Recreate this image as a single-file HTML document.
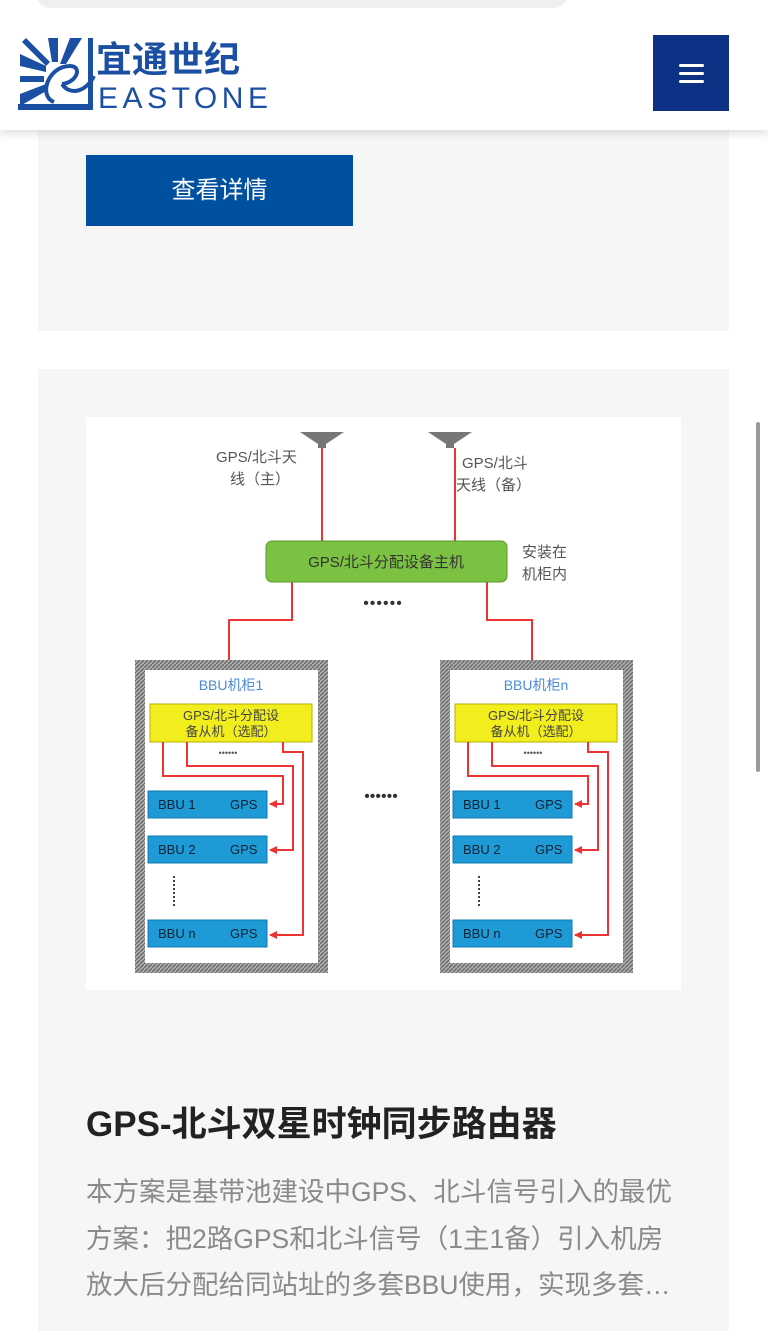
<!DOCTYPE html>
<html><head><meta charset="utf-8"><style>
*{margin:0;padding:0;box-sizing:border-box}
body{width:768px;height:1331px;overflow:hidden;background:#fff;font-family:"Liberation Sans","Noto Sans CJK SC",sans-serif;position:relative}
.card{position:absolute;left:38px;width:691px;background:#f6f6f6}
.hdr{position:absolute;left:0;top:0;width:768px;height:130px;background:#fff;box-shadow:0 4px 8px rgba(0,0,0,.12)}
.pill{position:absolute;left:36px;top:-20px;width:532px;height:28px;border-radius:14px;background:#eeeff1}
.btn{position:absolute;left:86px;top:155px;width:267px;height:71px;background:#0050a0;color:#fff;font-size:24px;text-align:center;line-height:71px}
.menu{position:absolute;left:653px;top:35px;width:76px;height:76px;background:#0d3285}
.menu i{position:absolute;left:26px;width:25px;height:3px;background:#fff;border-radius:2px}
.title{position:absolute;left:86px;top:1096px;font-size:35px;color:#222;font-weight:bold;white-space:nowrap}
.desc{position:absolute;left:86px;top:1169px;width:660px;font-size:26.5px;line-height:46.5px;color:#8a8a8a;white-space:nowrap}
</style></head><body>
<div class="card" style="top:0;height:331px"></div>
<div class="btn">查看详情</div>
<div class="hdr"><div class="pill"></div>
<svg style="position:absolute;left:18px;top:36px" width="252" height="76">
<g fill="#1a4fa3"><polygon points="2,18 28,30 28,36 2,30"/><polygon points="8,2 32,26 28,30 4,6"/><polygon points="30,2 40,2 40,26 34,26"/><polygon points="52,2 64,2 48,28 42,28"/><rect x="2" y="40" width="24" height="6"/><polygon points="2,58 28,48 30,54 2,70"/><rect x="0" y="68" width="74" height="6"/><path d="M36,66 C20,60 30,30 52,30 C64,30 60,46 44,48 M44,48 C52,60 68,56 76,40" stroke="#1a4fa3" stroke-width="4" fill="none"/><rect x="70" y="2" width="5" height="72"/></g>
<text x="78" y="36" font-size="36" font-weight="bold" fill="#1a4fa3" font-family="Noto Sans CJK SC,sans-serif">宜通世纪</text>
<text x="80" y="72" font-size="30" fill="#1a4fa3" textLength="170" font-family="Liberation Sans,sans-serif">EASTONE</text>
</svg>
<div class="menu"><i style="top:29px"></i><i style="top:37px"></i><i style="top:45px"></i></div></div>
<div class="card" style="top:369px;height:962px"></div>
<svg style="position:absolute;left:86px;top:417px" width="595" height="573" viewBox="86 417 595 573" font-family="Liberation Sans,Noto Sans CJK SC,sans-serif">
<defs><pattern id="h" width="4" height="4" patternUnits="userSpaceOnUse"><rect width="4" height="4" fill="#aaa"/><path d="M0,4 L4,0" stroke="#666" stroke-width="1.2"/></pattern>
<marker id="a" markerWidth="4" markerHeight="4" refX="3.5" refY="2" orient="auto"><path d="M0,0 L4,2 L0,4z" fill="#e33"/></marker></defs>
<rect x="86" y="417" width="595" height="573" fill="#fff"/>
<path d="M300,432 h44 l-18,12 v4 h-8 v-4z" fill="#777"/><path d="M428,432 h44 l-18,12 v4 h-8 v-4z" fill="#777"/>
<g stroke="#e33" stroke-width="2" fill="none"><line x1="322" y1="448" x2="322" y2="541"/><line x1="455" y1="448" x2="455" y2="541"/>
<path d="M292,582 V620 H229 V702" marker-end="url(#a)"/><path d="M487,582 V620 H532 V702" marker-end="url(#a)"/></g>
<g font-size="15" fill="#555"><text x="216" y="462">GPS/北斗天</text><text x="230" y="484">线（主）</text><text x="462" y="468">GPS/北斗</text><text x="456" y="490">天线（备）</text><text x="522" y="557">安装在</text><text x="522" y="579">机柜内</text></g>
<rect x="266" y="541" width="241" height="41" rx="6" fill="#7cc242" stroke="#5a9a2a"/>
<text x="386" y="567" font-size="15" text-anchor="middle" fill="#333">GPS/北斗分配设备主机</text>
<text x="383" y="608" font-size="16" text-anchor="middle" fill="#333" letter-spacing="1">••••••</text>
<text x="381" y="801" font-size="16" text-anchor="middle" fill="#333">••••••</text>
<g id="c">
<rect x="135" y="660" width="193" height="313" fill="url(#h)"/><rect x="145" y="670" width="173" height="293" fill="#fff"/>
<rect x="150" y="704" width="162" height="38" fill="#f2ee1e" stroke="#b8b000"/>
<text x="231" y="720" font-size="13" text-anchor="middle" fill="#444">GPS/北斗分配设</text><text x="231" y="736" font-size="13" text-anchor="middle" fill="#444">备从机（选配）</text>
<text x="228" y="756" font-size="9" text-anchor="middle" fill="#555">••••••</text>
<g fill="#1e9ad6" stroke="#1278b0"><rect x="148" y="791" width="119" height="27"/><rect x="148" y="836" width="119" height="27"/><rect x="148" y="920" width="119" height="27"/></g>
<g font-size="13" fill="#123"><text x="158" y="809">BBU 1</text><text x="230" y="809">GPS</text><text x="158" y="854">BBU 2</text><text x="230" y="854">GPS</text><text x="158" y="938">BBU n</text><text x="230" y="938">GPS</text></g>
<line x1="174" y1="876" x2="174" y2="908" stroke="#444" stroke-width="2" stroke-dasharray="2,2"/>
<g stroke="#e33" stroke-width="2" fill="none"><path d="M163,742 V776 H283 V804 H270" marker-end="url(#a)"/><path d="M187,742 V766 H293 V850 H270" marker-end="url(#a)"/><path d="M283,742 V752 H303 V935 H270" marker-end="url(#a)"/></g>
</g>
<use href="#c" x="305"/>
<text x="231" y="690" font-size="14" text-anchor="middle" fill="#4a8ad4">BBU机柜1</text>
<text x="536" y="690" font-size="14" text-anchor="middle" fill="#4a8ad4">BBU机柜n</text>
</svg>
<div class="title">GPS-北斗双星时钟同步路由器</div>
<div class="desc">本方案是基带池建设中GPS、北斗信号引入的最优<br>方案：把2路GPS和北斗信号（1主1备）引入机房<br>放大后分配给同站址的多套BBU使用，实现多套…</div>
<div style="position:absolute;left:756px;top:422px;width:4px;height:350px;background:#9a9a9a;border-radius:2px"></div>
</body></html>
